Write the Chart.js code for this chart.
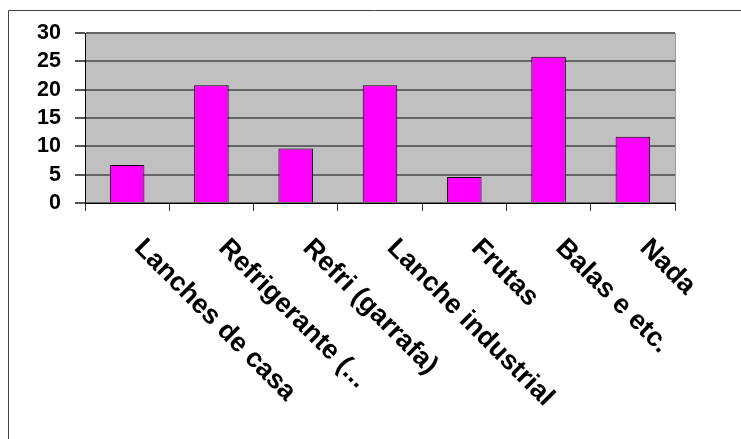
<!DOCTYPE html>
<html>
<head>
<meta charset="utf-8">
<title>Lanches</title>
<script src="https://cdn.jsdelivr.net/npm/chart.js@4/dist/chart.umd.min.js"></script>
<style>
  html, body { margin: 0; padding: 0; background: #fff; }
  #wrap { width: 741px; height: 439px; }
</style>
</head>
<body>
<div id="wrap"><canvas id="c" width="741" height="439"></canvas></div>
<script>
// Snack categories and their share (%)
const categories = ['Lanches de casa', 'Refrigerante (...', 'Refri (garrafa)', 'Lanche industrial', 'Frutas', 'Balas e etc.', 'Nada'];
const values = [6.7, 20.8, 9.6, 20.8, 4.6, 25.8, 11.7];
const yTicks = [0, 5, 10, 15, 20, 25, 30];

const FONT = '"Liberation Sans", Arial, sans-serif';

// Grey plot background, light right edge and the outer frame
const framePlugin = {
  id: 'frame',
  beforeDraw(chart) {
    const { ctx, chartArea: a } = chart;
    ctx.save();
    ctx.fillStyle = '#fff';
    ctx.fillRect(0, 0, chart.width, chart.height);
    ctx.fillStyle = '#c0c0c0';
    ctx.fillRect(a.left, a.top, a.right - a.left, a.bottom - a.top);
    ctx.strokeStyle = '#a0a0a0';
    ctx.lineWidth = 1;
    ctx.beginPath();
    ctx.moveTo(a.right + 0.5, a.top);
    ctx.lineTo(a.right + 0.5, a.bottom);
    ctx.stroke();
    ctx.strokeStyle = '#444';
    ctx.beginPath();
    ctx.moveTo(8.5, chart.height);
    ctx.lineTo(8.5, 10.5);
    ctx.lineTo(chart.width, 10.5);
    ctx.stroke();
    ctx.restore();
  }
};

// Category names written diagonally downwards from each category
const slantLabels = {
  id: 'slantLabels',
  afterDraw(chart) {
    const { ctx } = chart;
    const xs = chart.scales.x;
    ctx.save();
    ctx.fillStyle = '#000';
    ctx.font = 'bold 27px ' + FONT;
    ctx.textAlign = 'left';
    ctx.textBaseline = 'alphabetic';
    categories.forEach((name, i) => {
      const x = xs.getPixelForValue(i) + 6;
      const y = xs.top + 46;
      ctx.save();
      ctx.translate(x, y);
      ctx.rotate(Math.PI / 4);
      ctx.fillText(name, 0, 0);
      ctx.restore();
    });
    ctx.restore();
  }
};

new Chart(document.getElementById('c'), {
  type: 'bar',
  data: {
    labels: categories,
    datasets: [{
      data: values,
      backgroundColor: '#ff00ff',
      borderColor: '#000',
      borderWidth: 1,
      barPercentage: 0.41,
      categoryPercentage: 1
    }]
  },
  options: {
    responsive: false,
    devicePixelRatio: 1,
    animation: false,
    layout: { padding: { left: 0, top: 33, right: 66, bottom: 0 } },
    plugins: { legend: { display: false }, tooltip: { enabled: false } },
    scales: {
      x: {
        offset: true,
        grid: { offset: true, drawOnChartArea: false, drawTicks: true, tickLength: 8, color: '#333', lineWidth: 1 },
        border: { color: '#000', width: 1 },
        ticks: { display: false },
        afterFit(s) { s.height = 236; }
      },
      y: {
        min: 0,
        max: 30,
        afterBuildTicks(s) { s.ticks = yTicks.map(v => ({ value: v })); },
        grid: { color: '#666', lineWidth: 2, tickLength: 10, tickColor: '#555' },
        border: { color: '#000', width: 1 },
        ticks: { color: '#000', padding: 14, autoSkip: false, font: { family: FONT, size: 21.5, weight: 'bold' } },
        afterFit(s) { s.width = 85; }
      }
    }
  },
  plugins: [framePlugin, slantLabels]
});
</script>
</body>
</html>
